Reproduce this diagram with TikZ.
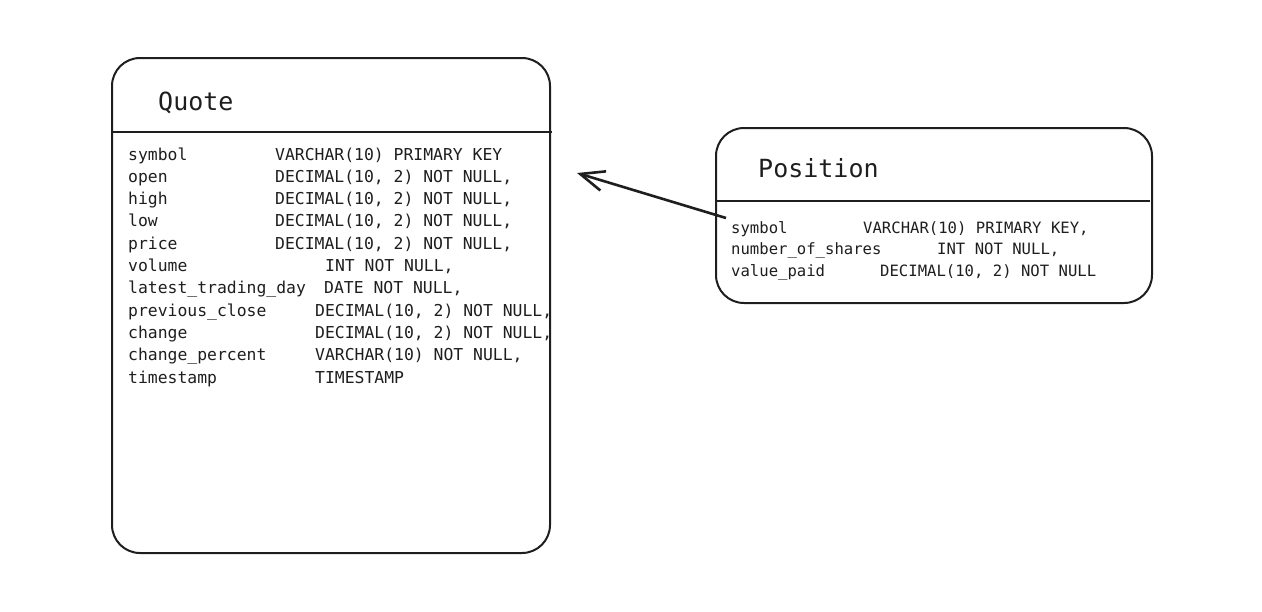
\documentclass[tikz,border=0pt]{standalone}
\usepackage{fontspec}
\newfontfamily\monofam{DejaVu Sans Mono}
\usetikzlibrary{arrows.meta}
\definecolor{ink}{HTML}{1E1E1E}
\tikzset{
  tablebox/.style={draw=ink, line width=2pt, rounded corners=28pt},
  headline/.style={draw=ink, line width=2.6pt},
  titletxt/.style={anchor=base west, inner sep=0pt, text=ink, font=\monofam\fontsize{25}{30}\selectfont},
  qtxt/.style={anchor=base west, inner sep=0pt, text=ink, font=\monofam\fontsize{16.4}{20}\selectfont},
  ptxt/.style={anchor=base west, inner sep=0pt, text=ink, font=\monofam\fontsize{15.6}{19}\selectfont},
  refarrow/.style={draw=ink, line width=2.6pt, -{Straight Barb[length=24pt,width=20pt,line width=2.6pt]}}
}
\begin{document}
\begin{tikzpicture}[x=1pt,y=-1pt]
\useasboundingbox (0,0) rectangle (1262,611);
% Quote table
\draw[tablebox] (112,58) rectangle (550,553);
\coordinate (qhl) at (112,132);
\coordinate (qhr) at (552,132);
\draw[headline] (qhl) -- (qhr);
\node[titletxt] (qtitle) at (158,110) {Quote};
\node[qtxt] (qn1) at (128,160) {symbol};
\node[qtxt] (qt1) at (275,160) {VARCHAR(10) PRIMARY KEY};
\node[qtxt] (qn2) at (128,182.3) {open};
\node[qtxt] (qt2) at (275,182.3) {DECIMAL(10, 2) NOT NULL,};
\node[qtxt] (qn3) at (128,204.6) {high};
\node[qtxt] (qt3) at (275,204.6) {DECIMAL(10, 2) NOT NULL,};
\node[qtxt] (qn4) at (128,226.9) {low};
\node[qtxt] (qt4) at (275,226.9) {DECIMAL(10, 2) NOT NULL,};
\node[qtxt] (qn5) at (128,249.2) {price};
\node[qtxt] (qt5) at (275,249.2) {DECIMAL(10, 2) NOT NULL,};
\node[qtxt] (qn6) at (128,271.5) {volume};
\node[qtxt] (qt6) at (325,271.5) {INT NOT NULL,};
\node[qtxt] (qn7) at (128,293.8) {latest\_trading\_day};
\node[qtxt] (qt7) at (324,293.8) {DATE NOT NULL,};
\node[qtxt] (qn8) at (128,316.1) {previous\_close};
\node[qtxt] (qt8) at (315,316.1) {DECIMAL(10, 2) NOT NULL,};
\node[qtxt] (qn9) at (128,338.4) {change};
\node[qtxt] (qt9) at (315,338.4) {DECIMAL(10, 2) NOT NULL,};
\node[qtxt] (qn10) at (128,360.7) {change\_percent};
\node[qtxt] (qt10) at (315,360.7) {VARCHAR(10) NOT NULL,};
\node[qtxt] (qn11) at (128,383) {timestamp};
\node[qtxt] (qt11) at (315,383) {TIMESTAMP};
% Position table
\draw[tablebox] (716,128) rectangle (1152,303);
\coordinate (phl) at (716,201);
\coordinate (phr) at (1150,201);
\draw[headline] (phl) -- (phr);
\node[titletxt] (ptitle) at (758,177) {Position};
\node[ptxt] (pn1) at (731,233) {symbol};
\node[ptxt] (pt1) at (863,233) {VARCHAR(10) PRIMARY KEY,};
\node[ptxt] (pn2) at (731,254.5) {number\_of\_shares};
\node[ptxt] (pt2) at (937,254.5) {INT NOT NULL,};
\node[ptxt] (pn3) at (731,276) {value\_paid};
\node[ptxt] (pt3) at (880,276) {DECIMAL(10, 2) NOT NULL};
% reference arrow
\coordinate (astart) at (726,218);
\coordinate (aend) at (577,173);
\draw[refarrow] (astart) -- (aend);
\end{tikzpicture}
\end{document}
